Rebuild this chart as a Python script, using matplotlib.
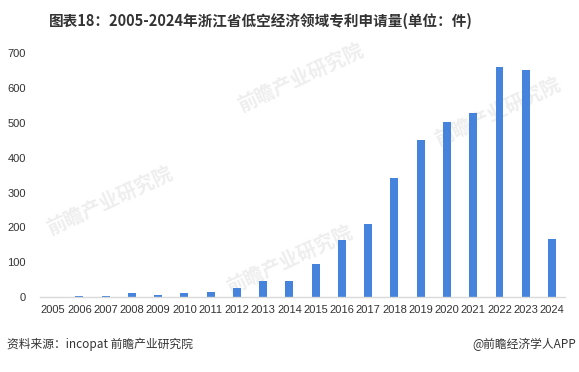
import numpy as np
import matplotlib.pyplot as plt

plt.rcParams['font.family'] = ['Noto Sans CJK SC', 'DejaVu Sans']

# 数据
years = [str(y) for y in range(2005, 2025)]
counts = [0, 3, 3, 11, 6, 11, 14, 26, 46, 46, 96, 165, 211, 343, 450, 504, 530, 661, 651, 167]

title = "图表18：2005-2024年浙江省低空经济领域专利申请量(单位：件)"
source = "资料来源：incopat 前瞻产业研究院"
credit = "@前瞻经济学人APP"
watermark = "前瞻产业研究院"

fig = plt.figure(figsize=(5.79, 3.72), dpi=100)
ax = fig.add_axes([0.069, 0.2016, 0.907, 0.655])
ax.set_zorder(1)
ax.patch.set_alpha(0)

# 水印 (淡灰色, 在柱子后面)
for wx, wy in [(0.52, 0.79), (0.19, 0.46), (0.50, 0.30), (0.86, 0.70)]:
    fig.text(wx, wy, watermark, ha='center', va='center', fontsize=14,
             fontweight='bold', color='#EEEEEE', rotation=25, zorder=0)

x = np.arange(len(years))
ax.bar(x, counts, width=0.3, color='#4583DD', zorder=2)

ax.set_xlim(-0.5, len(years) - 0.5)
ax.set_ylim(0, 700)
ax.set_yticks(range(0, 701, 100))
ax.set_xticks(x)
ax.set_xticklabels(years)

for s in ('top', 'right', 'left'):
    ax.spines[s].set_visible(False)
ax.spines['bottom'].set_color('#D9D9D9')
ax.spines['bottom'].set_linewidth(1.0)
ax.tick_params(axis='both', length=0, labelsize=8, colors='#333333')
ax.tick_params(axis='x', pad=6)
ax.tick_params(axis='y', pad=10)
for lab in ax.get_xticklabels() + ax.get_yticklabels():
    lab.set_family(['Liberation Sans', 'DejaVu Sans'])

fig.text(0.451, 0.945, title, ha='center', va='center', fontsize=10.5,
         fontweight='bold', color='#333333')
fig.text(0.012, 0.075, source, ha='left', va='center', fontsize=8.5, color='#333333')
fig.text(0.995, 0.075, credit, ha='right', va='center', fontsize=8.5, color='#333333')

fig.savefig('out.png', dpi=100)
